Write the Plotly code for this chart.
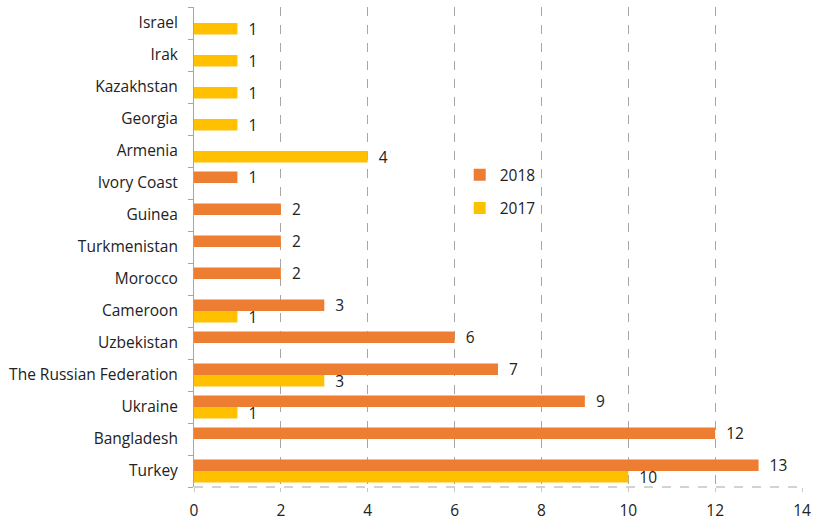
import plotly.graph_objects as go

countries = ["Turkey", "Bangladesh", "Ukraine", "The Russian Federation", "Uzbekistan",
             "Cameroon", "Morocco", "Turkmenistan", "Guinea", "Ivory Coast",
             "Armenia", "Georgia", "Kazakhstan", "Irak", "Israel"]
v2018 = [13, 12, 9, 7, 6, 3, 2, 2, 2, 1, None, None, None, None, None]
v2017 = [10, None, 1, 3, None, 1, None, None, None, None, 4, 1, 1, 1, 1]
x_ticks = [0, 2, 4, 6, 8, 10, 12, 14]

FONT = "Open Sans"
FS = 15.5

def labels(vals):
    return ["" if v is None else "  " + str(v) for v in vals]

fig = go.Figure()
fig.add_trace(go.Bar(name="2017", y=countries, x=v2017, orientation="h",
                     marker=dict(color="#FFC000", line=dict(width=0)),
                     text=labels(v2017), textposition="outside",
                     textfont=dict(size=FS, color="#222", family=FONT),
                     constraintext="none", cliponaxis=False,
                     legendgroup="a", legendrank=2))
fig.add_trace(go.Bar(name="2018", y=countries, x=v2018, orientation="h",
                     marker=dict(color="#ED7D31", line=dict(width=0)),
                     text=labels(v2018), textposition="outside",
                     textfont=dict(size=FS, color="#222", family=FONT),
                     constraintext="none", cliponaxis=False,
                     legendgroup="b", legendrank=1))

fig.update_layout(
    width=814, height=521,
    margin=dict(l=194, r=12, t=7, b=34, autoexpand=False),
    barmode="group", bargap=0.28, bargroupgap=0,
    plot_bgcolor="white", paper_bgcolor="white",
    font=dict(family=FONT, size=FS, color="#222"),
    showlegend=True,
    legend=dict(x=0.437, y=0.685, xanchor="left", yanchor="top",
                traceorder="grouped", tracegroupgap=10,
                font=dict(size=FS, family=FONT, color="#222"),
                bgcolor="rgba(0,0,0,0)", itemwidth=30),
    xaxis=dict(range=[0, 14], tickvals=x_ticks, showgrid=True,
               gridcolor="#A6A6A6", griddash="dash", gridwidth=1,
               zeroline=False, showline=False, ticks="outside", ticklen=4,
               tickcolor="#C8C8C8", ticklabeloverflow="allow", automargin=False,
               ticklabelstandoff=5,
               tickfont=dict(size=FS, family=FONT, color="#222")),
    yaxis=dict(type="category", showgrid=False, zeroline=False, automargin=False,
               showline=True, linecolor="#A6A6A6", linewidth=1,
               ticks="outside", tickson="boundaries", ticklen=5,
               tickcolor="#A6A6A6", ticklabelstandoff=12,
               tickfont=dict(size=FS, family=FONT, color="#222")),
)
fig.add_shape(type="line", xref="x", yref="paper", x0=0, x1=14, y0=0, y1=0,
              line=dict(color="#A6A6A6", width=1, dash="dash"))

fig.write_html("out.html", config={"displayModeBar": False},
               post_script="document.body.style.margin='0';document.body.style.padding='0';document.body.style.overflow='hidden';")
